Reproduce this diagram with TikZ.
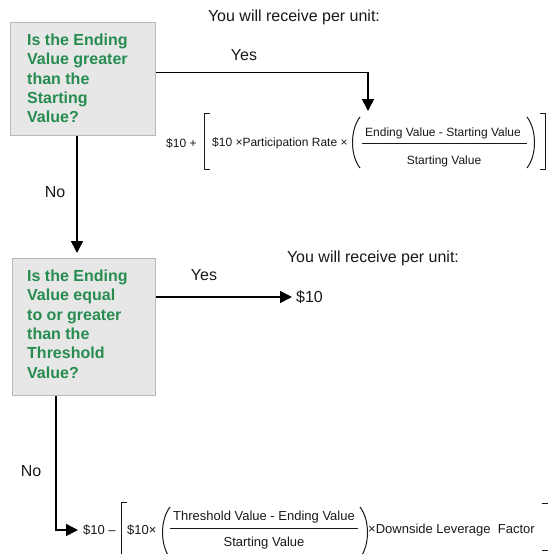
\documentclass[tikz,border=0pt]{standalone}
\usepackage{fontspec}
\setmainfont{Liberation Sans}
\usetikzlibrary{arrows.meta}
\definecolor{qgreen}{RGB}{38,140,80}
\definecolor{boxfill}{RGB}{231,231,231}
\definecolor{boxline}{RGB}{185,185,185}
\definecolor{ink}{RGB}{25,25,25}
\begin{document}
\begin{tikzpicture}[x=1pt,y=-1pt,
  qbox/.style={draw=boxline, fill=boxfill, line width=1.2pt, inner sep=0pt, anchor=north west},
  qtext/.style={text=qgreen, font=\fontsize{16}{19.4}\selectfont\bfseries, align=left, anchor=north west, inner sep=0pt},
  lbl/.style={text=ink, font=\fontsize{16}{19}\selectfont, inner sep=0pt},
  fa/.style={text=ink, font=\fontsize{12}{14}\selectfont, inner sep=0pt},
  fb/.style={text=ink, font=\fontsize{13}{15}\selectfont, inner sep=0pt},
  conn/.style={line width=1.5pt, draw=black},
  arr/.style={conn, -{Triangle[length=12pt,width=12pt]}},
  delim/.style={line width=1pt, draw=ink},
  fbar/.style={line width=1pt, draw=ink}]
\useasboundingbox (0,0) rectangle (547,554);
\fill[white] (0,0) rectangle (547,554);

% question boxes
\node[qbox, minimum width=145pt, minimum height=113pt] (b1) at (10,22) {};
\node[qtext] (q1) at (27,33.5) {Is the Ending\\Value greater\\than the\\Starting\\Value?};
\node[qbox, minimum width=143pt, minimum height=137pt] (b2) at (12,258) {};
\node[qtext] (q2) at (27,269.5) {Is the Ending\\Value equal\\to or greater\\than the\\Threshold\\Value?};

% labels
\node[lbl] (r1) at (294,17) {You will receive per unit:};
\node[lbl] (r2) at (373,258) {You will receive per unit:};
\node[lbl] (y1) at (244,55) {Yes};
\node[lbl] (y2) at (204,275) {Yes};
\node[lbl] (no1) at (55,192) {No};
\node[lbl] (no2) at (31,471) {No};
\node[lbl, anchor=west] (ten) at (296,297) {\$10};

% top formula
\node[fa, anchor=west] (p10) at (166,143) {\$10 +};
\node[fa, anchor=west] (pr) at (212,143) {\$10 ×Participation Rate ×};
\node[fa] (n1) at (443,133) {Ending Value - Starting Value};
\node[fa] (d1) at (444,161) {Starting Value};
\draw[fbar] (362,143) -- (527,143);
\draw[delim] (210,113) -- (204,113) -- (204,169) -- (210,169);
\draw[delim] (360,117) .. controls (350,130) and (350,155) .. (360,168);
\draw[delim] (527,117) .. controls (537,130) and (537,155) .. (527,168);
\draw[delim] (540,113) -- (545,113) -- (545,169) -- (540,169);

% bottom formula
\node[fb, anchor=west] (m10) at (83,530) {\$10 –};
\node[fb, anchor=west] (s10) at (127,530) {\$10×};
\node[fb] (n2) at (264,517) {Threshold Value - Ending Value};
\node[fb] (d2) at (264,543) {Starting Value};
\draw[fbar] (170,528) -- (358,528);
\node[fb, anchor=west] (dl) at (368,530) {×Downside Leverage\ \ Factor};
\draw[delim] (127,502) -- (121,502) -- (121,558);
\draw[delim] (170,507) .. controls (160,520) and (160,545) .. (170,558);
\draw[delim] (360,507) .. controls (370,520) and (370,545) .. (360,558);
\draw[delim] (542,503) -- (548,503) -- (548,550) -- (542,550);

% connectors
\coordinate (t1) at (368,111);
\coordinate (t2) at (77,253);
\coordinate (c2) at (56,530);
\draw[arr] ([yshift=6.5pt]b1.east) -| (t1);
\draw[arr] (b1.south -| t2) -- (t2);
\draw[arr, shorten >=4pt] (b2.east |- ten.west) -- (ten.west);
\draw[arr] (b2.south -| c2) |- ([xshift=-5pt]m10.west);
\end{tikzpicture}
\end{document}
